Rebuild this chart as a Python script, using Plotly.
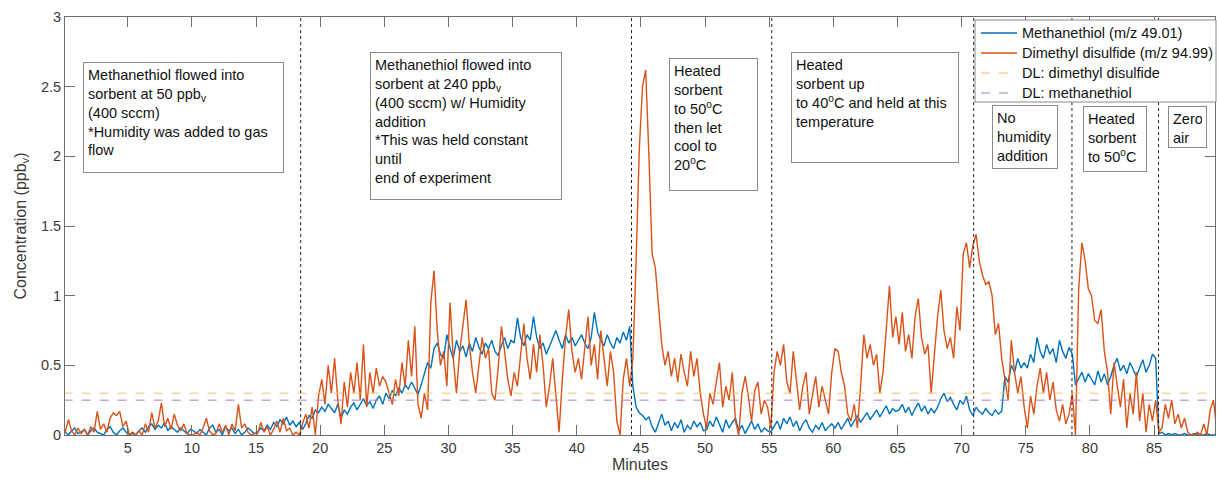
import plotly.graph_objects as go

# ---------------- data ----------------
t_start = 0.125
t_step = 0.25  # minutes between samples

methanethiol = [
    0.02, 0.00, 0.03, 0.05, 0.01, 0.02, 0.04, 0.00, 0.03, 0.05, 0.02, 0.01, 0.00, 0.04, 0.06, 0.02, 0.00, 0.03, 0.05, 0.02,
    0.00, 0.02, 0.00, 0.03, 0.05, 0.02, 0.06, 0.08, 0.04, 0.07, 0.05, 0.09, 0.03, 0.06, 0.04, 0.02, 0.05, 0.03, 0.01, 0.04,
    0.03, 0.01, 0.04, 0.02, 0.00, 0.05, 0.07, 0.02, 0.04, 0.00, 0.06, 0.03, 0.05, 0.01, 0.04, 0.00, 0.02, 0.05, 0.03, 0.01,
    0.02, 0.05, 0.03, 0.07, 0.04, 0.09, 0.06, 0.11, 0.08, 0.13, 0.07, 0.10, 0.06, 0.09, 0.04, 0.08, 0.14, 0.12, 0.18, 0.16,
    0.20, 0.17, 0.22, 0.19, 0.16, 0.22, 0.12, 0.18, 0.15, 0.20, 0.23, 0.18, 0.22, 0.26, 0.21, 0.24, 0.19, 0.25, 0.28, 0.22,
    0.30, 0.26, 0.32, 0.28, 0.34, 0.30, 0.36, 0.33, 0.38, 0.34, 0.29, 0.36, 0.45, 0.52, 0.48, 0.62, 0.66, 0.58, 0.55, 0.72,
    0.62, 0.55, 0.68, 0.60, 0.64, 0.56, 0.66, 0.60, 0.70, 0.63, 0.58, 0.66, 0.62, 0.68, 0.60, 0.57, 0.64, 0.70, 0.62, 0.68,
    0.66, 0.84, 0.70, 0.64, 0.72, 0.68, 0.85, 0.70, 0.62, 0.66, 0.58, 0.64, 0.70, 0.75, 0.68, 0.62, 0.72, 0.66, 0.70, 0.64,
    0.68, 0.72, 0.66, 0.62, 0.70, 0.88, 0.74, 0.68, 0.64, 0.72, 0.66, 0.62, 0.70, 0.66, 0.74, 0.68, 0.78, 0.35, 0.20, 0.16,
    0.14, 0.11, 0.13, 0.06, 0.02, 0.08, 0.15, 0.07, 0.10, 0.03, 0.09, 0.05, 0.11, 0.02, 0.07, 0.04, 0.10, 0.06, 0.09, 0.03,
    0.04, 0.10, 0.06, 0.13, 0.08, 0.02, 0.11, 0.05, 0.09, 0.12, 0.03, 0.07, 0.01, 0.06, 0.10, 0.04, 0.08, 0.02, 0.05, 0.03,
    0.02, 0.06, 0.10, 0.04, 0.12, 0.08, 0.13, 0.06, 0.10, 0.03, 0.08, 0.11, 0.05, 0.02, 0.07, 0.04, 0.09, 0.03, 0.06, 0.08,
    0.05, 0.09, 0.04, 0.08, 0.12, 0.06, 0.10, 0.14, 0.09, 0.13, 0.16, 0.11, 0.15, 0.18, 0.13, 0.17, 0.21, 0.15, 0.19, 0.17,
    0.18, 0.22, 0.16, 0.20, 0.14, 0.19, 0.23, 0.17, 0.21, 0.15, 0.19, 0.16, 0.20, 0.26, 0.30, 0.24, 0.27, 0.22, 0.18, 0.25,
    0.22, 0.28, 0.18, 0.14, 0.20, 0.17, 0.15, 0.19, 0.16, 0.14, 0.18, 0.15, 0.17, 0.42, 0.38, 0.50, 0.45, 0.55, 0.48, 0.52,
    0.48, 0.58, 0.52, 0.70, 0.60, 0.55, 0.65, 0.58, 0.62, 0.52, 0.68, 0.60, 0.55, 0.63, 0.58, 0.36, 0.40, 0.45, 0.38, 0.44,
    0.40, 0.36, 0.46, 0.38, 0.44, 0.36, 0.42, 0.50, 0.55, 0.46, 0.50, 0.44, 0.52, 0.47, 0.42, 0.48, 0.54, 0.45, 0.50, 0.58,
    0.55, 0.01, 0.02, 0.00, 0.01, 0.00, 0.01, 0.00, 0.00, 0.01, 0.00, 0.00, 0.01, 0.00, 0.00, 0.00, 0.01, 0.00, 0.00, 0.00,
]

dimethyl_disulfide = [
    0.02, 0.11, 0.03, 0.00, 0.05, 0.01, 0.04, 0.00, 0.06, 0.02, 0.17, 0.04, 0.08, 0.02, 0.12, 0.16, 0.14, 0.17, 0.06, 0.10,
    0.00, 0.01, 0.00, 0.03, 0.00, 0.08, 0.02, 0.16, 0.05, 0.10, 0.23, 0.06, 0.12, 0.04, 0.15, 0.07, 0.03, 0.08, 0.01, 0.00,
    0.00, 0.02, 0.00, 0.05, 0.12, 0.03, 0.00, 0.01, 0.08, 0.02, 0.07, 0.00, 0.08, 0.03, 0.22, 0.05, 0.08, 0.02, 0.00, 0.01,
    0.01, 0.09, 0.02, 0.06, 0.00, 0.04, 0.10, 0.02, 0.12, 0.03, 0.05, 0.00, 0.02, 0.00, 0.08, 0.15, 0.05, 0.20, 0.00, 0.28,
    0.40, 0.22, 0.50, 0.30, 0.55, 0.25, 0.08, 0.38, 0.20, 0.45, 0.30, 0.52, 0.25, 0.65, 0.20, 0.45, 0.30, 0.48, 0.35, 0.42,
    0.38, 0.30, 0.22, 0.40, 0.28, 0.52, 0.35, 0.68, 0.42, 0.78, 0.22, 0.12, 0.30, 0.18, 0.95, 1.18, 0.75, 0.50, 0.60, 0.35,
    0.95, 0.55, 0.30, 0.60, 0.80, 0.97, 0.65, 0.45, 0.30, 0.50, 0.70, 0.55, 0.62, 0.30, 0.25, 0.48, 0.78, 0.60, 0.40, 0.28,
    0.45, 0.35, 0.60, 0.80, 0.55, 0.40, 0.65, 0.45, 0.72, 0.50, 0.20, 0.35, 0.55, 0.30, 0.02, 0.40, 0.70, 0.90, 0.60, 0.45,
    0.55, 0.40, 0.62, 0.85, 0.50, 0.65, 0.40, 0.75, 0.55, 0.35, 0.60, 0.45, 0.10, 0.00, 0.40, 0.55, 0.35, 0.55, 1.25, 2.05,
    2.50, 2.62, 2.00, 1.30, 1.20, 0.95, 0.65, 0.50, 0.60, 0.42, 0.55, 0.38, 0.58, 0.45, 0.35, 0.60, 0.42, 0.55, 0.30, 0.15,
    0.05, 0.30, 0.22, 0.38, 0.52, 0.20, 0.35, 0.25, 0.45, 0.10, 0.00, 0.30, 0.42, 0.28, 0.10, 0.32, 0.38, 0.15, 0.25, 0.20,
    0.05, 0.45, 0.60, 0.50, 0.65, 0.38, 0.30, 0.60, 0.40, 0.18, 0.35, 0.45, 0.15, 0.30, 0.42, 0.20, 0.35, 0.25, 0.15, 0.45,
    0.62, 0.60, 0.45, 0.35, 0.15, 0.10, 0.22, 0.05, 0.35, 0.72, 0.55, 0.65, 0.50, 0.58, 0.30, 0.45, 0.75, 1.07, 0.70, 0.85,
    0.65, 0.88, 0.60, 0.72, 0.55, 0.85, 0.98, 0.70, 0.58, 0.65, 0.30, 0.55, 0.85, 1.04, 0.75, 0.62, 0.70, 0.55, 0.92, 0.75,
    1.30, 1.38, 1.20, 1.36, 1.44, 1.25, 1.15, 1.08, 1.10, 1.00, 0.72, 0.80, 0.55, 0.40, 0.25, 0.68, 0.45, 0.30, 0.42, 0.20,
    0.05, 0.28, 0.15, 0.35, 0.48, 0.30, 0.45, 0.25, 0.38, 0.18, 0.10, 0.22, 0.08, 0.15, 0.30, 0.00, 1.05, 1.38, 1.25, 1.05,
    1.00, 0.82, 0.80, 0.90, 0.60, 0.45, 0.15, 0.52, 0.35, 0.20, 0.40, 0.05, 0.30, 0.15, 0.45, 0.10, 0.30, 0.02, 0.22, 0.10,
    0.25, 0.02, 0.05, 0.22, 0.12, 0.25, 0.08, 0.15, 0.05, 0.12, 0.02, 0.00, 0.00, 0.02, 0.00, 0.08, 0.00, 0.18, 0.25, 0.05,
]

dl_dimethyl_disulfide = 0.30
dl_methanethiol = 0.25

event_minutes = [18.48, 44.27, 55.2, 70.94, 78.6, 85.35]

x_ticks = [5, 10, 15, 20, 25, 30, 35, 40, 45, 50, 55, 60, 65, 70, 75, 80, 85]
y_ticks = [0, 0.5, 1, 1.5, 2, 2.5, 3]
y_tick_labels = ["0", "0.5", "1", "1.5", "2", "2.5", "3"]

series_names = ["Methanethiol (m/z 49.01)", "Dimethyl disulfide (m/z 94.99)",
                "DL: dimethyl disulfide", "DL: methanethiol"]

# annotation boxes: text lines, top-left corner (minutes, ppbv), box size in px
note_texts = [
    "Methanethiol flowed into<br>sorbent at 50 ppb<sub>v</sub><br>(400 sccm)<br>*Humidity was added to gas<br>flow",
    "Methanethiol flowed into<br>sorbent at 240 ppb<sub>v</sub><br>(400 sccm) w/ Humidity<br>addition<br>*This was held constant<br>until<br>end of experiment",
    "Heated<br>sorbent<br>to 50<sup>o</sup>C<br>then let<br>cool to<br>20<sup>o</sup>C",
    "Heated<br>sorbent up<br>to 40<sup>o</sup>C and held at this<br>temperature",
    "No<br>humidity<br>addition",
    "Heated<br>sorbent<br>to 50<sup>o</sup>C",
    "Zero<br>air",
]
note_x = [1.49, 23.89, 47.21, 56.68, 72.39, 79.44, 86.11]
note_y = [2.677, 2.749, 2.706, 2.749, 2.371, 2.363, 2.358]
note_w = [201, 192, 89, 168, 66, 64, 39]
note_h = [111, 148, 133, 111, 64, 66, 42]

# ---------------- figure ----------------
minutes = [t_start + t_step * i for i in range(len(methanethiol))]

FONT = "Liberation Sans, Arial, sans-serif"
BLUE = "#0072BD"
ORANGE = "#D95319"
YELLOW = "#F1C463"
PURPLE = "#B27BC2"
AXIS_GRAY = "#6e6e6e"
LABEL_GRAY = "#3a3a3a"

W, H = 1217, 479
ML, MR, MT, MB = 65, 2, 17, 44
PW, PH = W - ML - MR, H - MT - MB


def px_x(p):
    return (p - ML) / PW


def px_y(p):
    return 1 - (p - MT) / PH


line_styles = [dict(color=BLUE, width=1.4),
               dict(color=ORANGE, width=1.4),
               dict(color=YELLOW, width=1, dash="dash"),
               dict(color=PURPLE, width=1, dash="dash")]

fig = go.Figure()
fig.add_trace(go.Scatter(x=minutes, y=methanethiol, mode="lines",
                         line=line_styles[0], name=series_names[0]))
fig.add_trace(go.Scatter(x=minutes, y=dimethyl_disulfide, mode="lines",
                         line=line_styles[1], name=series_names[1]))
fig.add_trace(go.Scatter(x=[0, 90], y=[dl_dimethyl_disulfide] * 2, mode="lines",
                         line=line_styles[2], name=series_names[2]))
fig.add_trace(go.Scatter(x=[0, 90], y=[dl_methanethiol] * 2, mode="lines",
                         line=line_styles[3], name=series_names[3]))

for xm in event_minutes:
    fig.add_shape(type="line", xref="x", yref="y", x0=xm, x1=xm, y0=0, y1=3,
                  line=dict(color="#222222", width=1, dash="dot"), layer="above")

PAD = 4
for txt, x, y, w, h in zip(note_texts, note_x, note_y, note_w, note_h):
    fig.add_annotation(x=x, y=y, xref="x", yref="y", text=txt, showarrow=False,
                       xanchor="left", yanchor="top", align="left", valign="top",
                       width=w - 2 * PAD - 2, height=h - 2 * PAD - 2,
                       bordercolor="#8a8a8a", borderwidth=1, borderpad=PAD,
                       bgcolor="white",
                       font=dict(family=FONT, size=14.5, color="#111111"))

# legend box (drawn to match the reference's legend position)
LEG_L, LEG_R, LEG_T, LEG_B = 975, 1216, 20, 102
fig.add_shape(type="rect", xref="paper", yref="paper",
              x0=px_x(LEG_L), x1=px_x(LEG_R), y0=px_y(LEG_B), y1=px_y(LEG_T),
              line=dict(color="#8a8a8a", width=1), fillcolor="white", layer="above")
for i, (name, style) in enumerate(zip(series_names, line_styles)):
    row_y = 33 + 20 * i
    fig.add_shape(type="line", xref="paper", yref="paper",
                  x0=px_x(981), x1=px_x(1017), y0=px_y(row_y), y1=px_y(row_y),
                  line=style, layer="above")
    fig.add_annotation(x=px_x(1020), y=px_y(row_y), xref="paper", yref="paper",
                       text=name, showarrow=False, xanchor="left", yanchor="middle",
                       font=dict(family=FONT, size=14.5, color="#111111"))

axis_common = dict(showline=True, linecolor=AXIS_GRAY, linewidth=1, mirror="ticks",
                   ticks="inside", ticklen=10, tickcolor=AXIS_GRAY, tickwidth=1,
                   showgrid=False, zeroline=False,
                   tickfont=dict(family=FONT, size=14.5, color=LABEL_GRAY))

fig.update_xaxes(range=[0.11, 89.75], tickvals=x_ticks,
                 title=dict(text="Minutes", font=dict(family=FONT, size=16, color=LABEL_GRAY), standoff=2),
                 **axis_common)
fig.update_yaxes(range=[0, 3], tickvals=y_ticks, ticktext=y_tick_labels,
                 title=dict(text="Concentration (ppb<sub>v</sub>)", font=dict(family=FONT, size=16, color=LABEL_GRAY), standoff=10),
                 **axis_common)

fig.update_layout(
    width=W, height=H,
    margin=dict(l=ML, r=MR, t=MT, b=MB),
    paper_bgcolor="white", plot_bgcolor="white",
    showlegend=False,
    font=dict(family=FONT),
)

fig.write_html("out.html")
